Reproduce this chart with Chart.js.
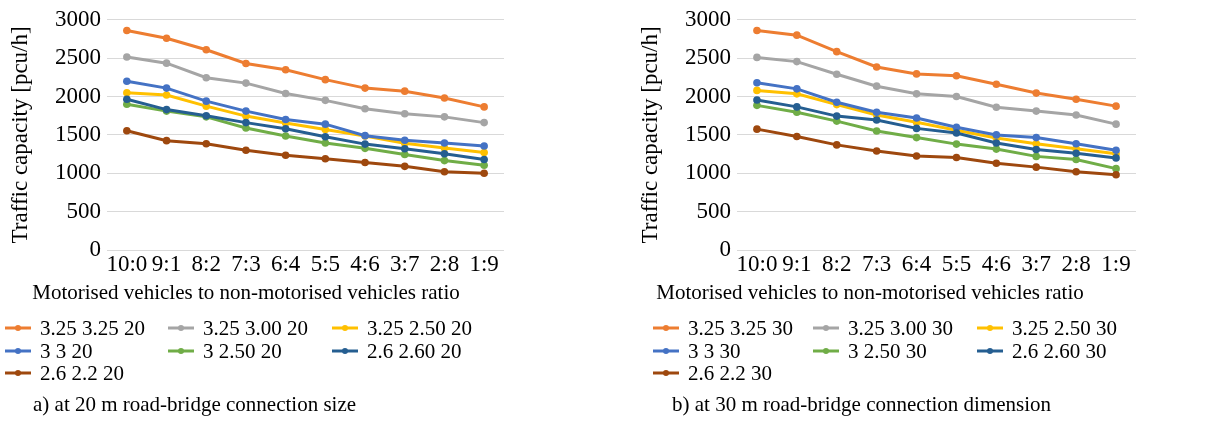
<!DOCTYPE html>
<html>
<head>
<meta charset="utf-8">
<script src="https://cdn.jsdelivr.net/npm/chart.js@4.4.1/dist/chart.umd.min.js"></script>
<style>
  html, body { margin: 0; padding: 0; background: #fff; }
  #wrap { position: relative; width: 1207px; height: 421px; overflow: hidden; background: #fff; }
  .panel { position: absolute; top: 0; height: 421px; }
  #pA { left: 0; width: 600px; }
  #pB { left: 600px; width: 607px; }
</style>
</head>
<body>
<div id="wrap">
  <div class="panel" id="pA"><canvas id="cA"></canvas></div>
  <div class="panel" id="pB"><canvas id="cB"></canvas></div>
</div>
<script>
// ---- Data ----
const categories = ['10:0', '9:1', '8:2', '7:3', '6:4', '5:5', '4:6', '3:7', '2:8', '1:9'];
const yTicks = [0, 500, 1000, 1500, 2000, 2500, 3000];

const labels20 = ['3.25 3.25 20', '3.25 3.00 20', '3.25 2.50 20', '3 3 20', '3 2.50 20', '2.6 2.60 20', '2.6 2.2 20'];
const labels30 = ['3.25 3.25 30', '3.25 3.00 30', '3.25 2.50 30', '3 3 30', '3 2.50 30', '2.6 2.60 30', '2.6 2.2 30'];
const seriesColors = ['#ED7D31', '#A5A5A5', '#FFC000', '#4472C4', '#70AD47', '#255E91', '#9E480E'];

// a) 20 m road-bridge connection
const m20_325_325 = [2860, 2760, 2610, 2430, 2350, 2220, 2110, 2070, 1980, 1865];
const m20_325_300 = [2515, 2435, 2245, 2175, 2040, 1950, 1840, 1775, 1735, 1660];
const m20_325_250 = [2050, 2020, 1875, 1745, 1655, 1570, 1485, 1390, 1330, 1270];
const m20_3_3     = [2200, 2110, 1940, 1810, 1700, 1640, 1490, 1430, 1395, 1355];
const m20_3_250   = [1900, 1810, 1735, 1590, 1485, 1395, 1325, 1245, 1165, 1105];
const m20_26_260  = [1965, 1830, 1750, 1660, 1580, 1475, 1380, 1320, 1255, 1180];
const m20_26_22   = [1555, 1425, 1385, 1300, 1235, 1190, 1140, 1090, 1020, 1000];

// b) 30 m road-bridge connection
const m30_325_325 = [2860, 2800, 2585, 2385, 2295, 2270, 2160, 2045, 1965, 1875];
const m30_325_300 = [2510, 2455, 2290, 2135, 2035, 2000, 1860, 1810, 1760, 1640];
const m30_325_250 = [2080, 2035, 1895, 1760, 1665, 1560, 1460, 1385, 1320, 1255];
const m30_3_3     = [2180, 2100, 1925, 1795, 1720, 1600, 1500, 1465, 1385, 1300];
const m30_3_250   = [1885, 1795, 1680, 1550, 1465, 1380, 1315, 1220, 1180, 1060];
const m30_26_260  = [1955, 1865, 1745, 1695, 1585, 1525, 1395, 1310, 1260, 1200];
const m30_26_22   = [1575, 1480, 1370, 1290, 1225, 1205, 1130, 1080, 1020, 980];

const series20 = [m20_325_325, m20_325_300, m20_325_250, m20_3_3, m20_3_250, m20_26_260, m20_26_22];
const series30 = [m30_325_325, m30_325_300, m30_325_250, m30_3_3, m30_3_250, m30_26_260, m30_26_22];

const xTitle = 'Motorised vehicles to non-motorised vehicles ratio';
const yTitle = 'Traffic capacity [pcu/h]';
const captionA = 'a) at 20 m road-bridge connection size';
const captionB = 'b) at 30 m road-bridge connection dimension';

// ---- Rendering ----
const FONT = '"Liberation Serif", "Times New Roman", serif';
const FS = 21;   // legend / titles
const TFS = 23;  // tick labels, y title

const extrasPlugin = {
  id: 'extras',
  afterDraw(chart, args, opts) {
    const ctx = chart.ctx;
    ctx.save();
    ctx.fillStyle = '#000';
    ctx.font = FS + 'px ' + FONT;
    ctx.textBaseline = 'middle';
    // x axis title
    ctx.textAlign = 'center';
    ctx.fillText(opts.xTitle, opts.xTitleX, opts.xTitleY);
    // legend
    ctx.textAlign = 'left';
    chart.data.datasets.forEach((ds, i) => {
      const col = i % 3, row = Math.floor(i / 3);
      const x = opts.legendCols[col];
      const y = opts.legendRows[row];
      ctx.strokeStyle = ds.borderColor;
      ctx.lineWidth = 3;
      ctx.beginPath();
      ctx.moveTo(x, y);
      ctx.lineTo(x + 26, y);
      ctx.stroke();
      ctx.fillStyle = ds.borderColor;
      ctx.beginPath();
      ctx.arc(x + 13, y, 3, 0, Math.PI * 2);
      ctx.fill();
      ctx.fillStyle = '#000';
      ctx.fillText(ds.label, x + 35, y + 1);
    });
    // caption
    ctx.fillText(opts.caption, opts.captionX, opts.captionY);
    ctx.restore();
  }
};

function makeChart(id, labels, series, cfg) {
  const datasets = series.map((vals, i) => ({
    label: labels[i],
    data: vals,
    borderColor: seriesColors[i],
    backgroundColor: seriesColors[i],
    borderWidth: 3,
    pointRadius: 3.8,
    pointHoverRadius: 3.8,
    pointBorderWidth: 0,
    pointBackgroundColor: seriesColors[i],
    tension: 0,
    order: series.length - i
  }));
  return new Chart(document.getElementById(id), {
    type: 'line',
    data: { labels: categories, datasets },
    options: {
      responsive: true,
      maintainAspectRatio: false,
      animation: false,
      events: [],
      layout: { padding: { top: cfg.padTop, right: cfg.padRight, left: 0, bottom: 0 } },
      plugins: {
        legend: { display: false },
        tooltip: { enabled: false },
        extras: cfg.extras
      },
      scales: {
        x: {
          type: 'category',
          offset: true,
          grid: { display: false, drawTicks: false },
          border: { display: false },
          ticks: { color: '#000', font: { family: FONT, size: TFS }, padding: 1, maxRotation: 0, autoSkip: false },
          afterFit(s) { s.height = 421 - cfg.plotBottom; }
        },
        y: {
          min: 0, max: 3000,
          afterBuildTicks(s) { s.ticks = yTicks.map(v => ({ value: v })); },
          grid: { color: '#D9D9D9', lineWidth: 1, drawTicks: false },
          border: { display: false },
          ticks: { color: '#000', font: { family: FONT, size: TFS }, padding: 6, callback: (v) => String(v) },
          title: { display: true, text: yTitle, color: '#000', font: { family: FONT, size: TFS }, padding: { top: cfg.yTitlePad, bottom: 0 } },
          afterFit(s) { s.width = cfg.yWidth; }
        }
      }
    },
    plugins: [extrasPlugin]
  });
}

makeChart('cA', labels20, series20, {
  padTop: 19, padRight: 96, plotBottom: 250, yWidth: 107, yTitlePad: 7,
  extras: {
    xTitle: xTitle, xTitleX: 246, xTitleY: 293,
    legendCols: [5, 168, 332], legendRows: [328, 351, 373],
    caption: captionA, captionX: 33, captionY: 405
  }
});
makeChart('cB', labels30, series30, {
  padTop: 15, padRight: 71, plotBottom: 250, yWidth: 137, yTitlePad: 37,
  extras: {
    xTitle: xTitle, xTitleX: 270, xTitleY: 293,
    legendCols: [53, 213, 377], legendRows: [328, 351, 373],
    caption: captionB, captionX: 72, captionY: 405
  }
});
</script>
</body>
</html>
